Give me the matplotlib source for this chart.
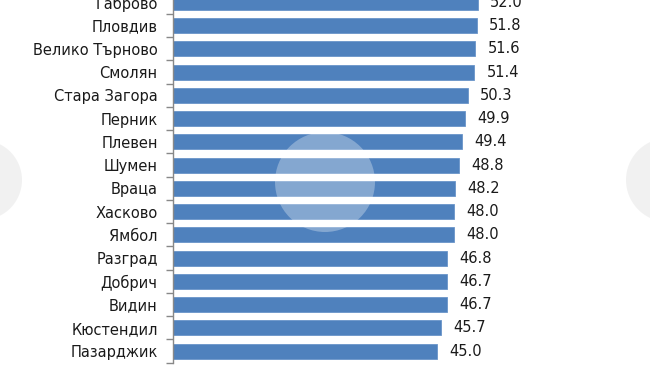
import matplotlib
matplotlib.use("Agg")
import matplotlib.pyplot as plt
from matplotlib.patches import Ellipse

categories = ["Габрово", "Пловдив", "Велико Търново", "Смолян", "Стара Загора",
              "Перник", "Плевен", "Шумен", "Враца", "Хасково", "Ямбол",
              "Разград", "Добрич", "Видин", "Кюстендил", "Пазарджик"]
values = [52.0, 51.8, 51.6, 51.4, 50.3, 49.9, 49.4, 48.8, 48.2, 48.0, 48.0,
          46.8, 46.7, 46.7, 45.7, 45.0]

W, H = 650, 365
fig = plt.figure(figsize=(W / 100, H / 100), dpi=100)
ax = fig.add_axes([173 / W, (H - 362.7) / H, 351.6 / W, 372 / H])

n = len(categories)
ypos = list(range(n))
ax.barh(ypos, values, height=0.65, color="#4F81BD", edgecolor="#6a95c9", linewidth=0.6, zorder=2)
ax.set_ylim(n - 0.5, -0.5)
ax.set_xlim(0, 60)

for y, v in zip(ypos, values):
    ax.text(v + 2.1, y, f"{v:.1f}", va="center", ha="left", fontsize=10.5,
            color="#1a1a1a", family="DejaVu Sans")

ax.set_yticks(ypos)
ax.set_yticklabels(categories, fontsize=10.5, color="#1a1a1a", family="DejaVu Sans")
ax.tick_params(axis="y", length=0, pad=11)
ax.set_yticks([i + 0.5 for i in range(-1, n)], minor=True)
ax.tick_params(axis="y", which="minor", length=5, width=1, color="#888888", direction="out")
ax.set_xticks([])
for s in ["top", "right", "bottom"]:
    ax.spines[s].set_visible(False)
ax.spines["left"].set_color("#888888")
ax.spines["left"].set_linewidth(1)

# watermark logos (approximate)
def fig_ellipse(cx, cy, r, color, alpha):
    e = Ellipse((cx / W, 1 - cy / H), 2 * r / W, 2 * r / H, transform=fig.transFigure,
                facecolor=color, edgecolor="none", alpha=alpha, zorder=5)
    fig.patches.append(e)

fig_ellipse(325, 182, 50, "white", 0.3)
fig_ellipse(-18, 180, 40, "#e4e4e4", 0.5)
fig_ellipse(668, 180, 42, "#e4e4e4", 0.5)

fig.savefig("out.png", dpi=100)
